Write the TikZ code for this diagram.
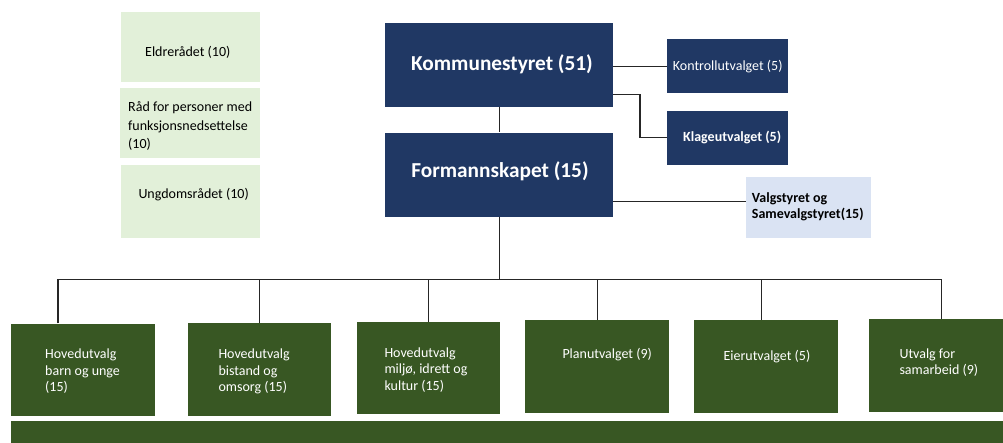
\documentclass[tikz,border=0pt]{standalone}
\usepackage{fontspec}
\setmainfont{Carlito}
\definecolor{navy}{HTML}{203864}
\definecolor{leaf}{HTML}{385723}
\definecolor{palegreen}{HTML}{E2F0D9}
\definecolor{paleblue}{HTML}{DAE3F3}
\definecolor{wirecol}{HTML}{262626}
\begin{document}
\begin{tikzpicture}[x=1pt,y=-1pt,
  boxbase/.style={anchor=north west, inner sep=0pt, draw=none},
  navybox/.style={boxbase, fill=navy, text=white},
  leafbox/.style={boxbase, fill=leaf, text=white},
  councilbox/.style={boxbase, fill=palegreen},
  electbox/.style={boxbase, fill=paleblue},
  lbl/.style={inner sep=0pt, align=left, font=\fontsize{14}{16.5}\selectfont},
  lblwide/.style={lbl, font=\fontsize{14}{18.5}\selectfont},
  big/.style={font=\fontsize{21.3}{25}\selectfont\bfseries},
  wire/.style={draw=wirecol, line width=1.2pt}]
\useasboundingbox (0,0) rectangle (1003,443);
\clip (0,0) rectangle (1003,443);

% advisory councils
\node[councilbox, minimum width=139pt, minimum height=70pt] (eld) at (121,12) {};
\node[councilbox, minimum width=140pt, minimum height=70pt] (raad) at (120,88) {};
\node[councilbox, minimum width=139pt, minimum height=73pt] (ung) at (121,165) {};
\node[lbl, anchor=west] (eldt) at (145,52) {Eldrerådet (10)};
\node[lblwide, anchor=west] (raadt) at (128,126.5) {Råd for personer med\\funksjonsnedsettelse\\(10)};
\node[lbl, anchor=west] (ungt) at (138.3,194.3) {Ungdomsrådet (10)};

% council and executive
\node[navybox, minimum width=228pt, minimum height=84pt] (ks) at (385,23) {};
\node[navybox, minimum width=228pt, minimum height=84pt] (fm) at (385,132.5) {};
\node[big, text=white] (kst) at (502,64.5) {Kommunestyret (51)};
\node[big, text=white] (fmt) at (500,171.7) {Formannskapet (15)};

\node[navybox, minimum width=121pt, minimum height=54pt, font=\fontsize{14}{16.5}\selectfont] (kont) at (667,39) {Kontrollutvalget (5)};
\node[navybox, minimum width=121pt, minimum height=54pt] (klage) at (667,110.5) {};
\node[lbl, anchor=west, text=white, font=\fontsize{14}{16.5}\selectfont\bfseries] (klaget) at (683,137.5) {Klageutvalget (5)};

\node[electbox, minimum width=125pt, minimum height=61pt] (valg) at (746,177) {};
\node[lbl, anchor=west, font=\fontsize{14}{16}\selectfont\bfseries] (valgt) at (751.7,206.3) {Valgstyret og\\Samevalgstyret(15)};

% committees
\node[leafbox, minimum width=143.5pt, minimum height=92.5pt] (b1) at (11,323.3) {};
\node[leafbox, minimum width=143.5pt, minimum height=93pt] (b2) at (187.7,323) {};
\node[leafbox, minimum width=143.5pt, minimum height=92.5pt] (b3) at (356.7,321.7) {};
\node[leafbox, minimum width=144pt, minimum height=92.5pt] (b4) at (525,320) {};
\node[leafbox, minimum width=143.5pt, minimum height=92.5pt] (b5) at (694,320) {};
\node[leafbox, minimum width=144pt, minimum height=92.5pt] (b6) at (869,319.3) {};
\node[leafbox, minimum width=1010pt, minimum height=30pt] (strip) at (11,421) {};

\node[lbl, anchor=west, text=white] (b1t) at (45,371.5) {Hovedutvalg\\barn og unge\\(15)};
\node[lbl, anchor=west, text=white] (b2t) at (218.3,371.5) {Hovedutvalg\\bistand og\\omsorg (15)};
\node[lbl, anchor=west, text=white] (b3t) at (384.3,370) {Hovedutvalg\\miljø, idrett og\\kultur (15)};
\node[lbl, anchor=west, text=white] (b4t) at (562.3,355) {Planutvalget (9)};
\node[lbl, anchor=west, text=white] (b5t) at (723.3,356.7) {Eierutvalget (5)};
\node[lbl, anchor=west, text=white] (b6t) at (899.3,362.5) {Utvalg for\\samarbeid (9)};

% connectors
\draw[wire] (kont.west -| ks.east) -- (kont.west);
\draw[wire] ([yshift=13pt]ks.south east) -| ([xshift=-27pt]klage.west) |- (klage.west);
\draw[wire] (ks.south) -- (fm.north);
\coordinate (fmv) at ([yshift=15pt]fm.south east);
\draw[wire] (fmv) -- (fmv -| valg.west);
\coordinate (bus) at (0,279.3);
\draw[wire] (fm.south) -- (fm.south |- bus);
\draw[wire] ([xshift=-25pt]b1.north) |- (bus -| b6.north) -- (b6.north);
\foreach \n in {b2,b3,b4} \draw[wire] (\n.north |- bus) -- (\n.north);
\draw[wire] ([xshift=-4.7pt]b5.north |- bus) -- ([xshift=-4.7pt]b5.north);
\end{tikzpicture}
\end{document}
